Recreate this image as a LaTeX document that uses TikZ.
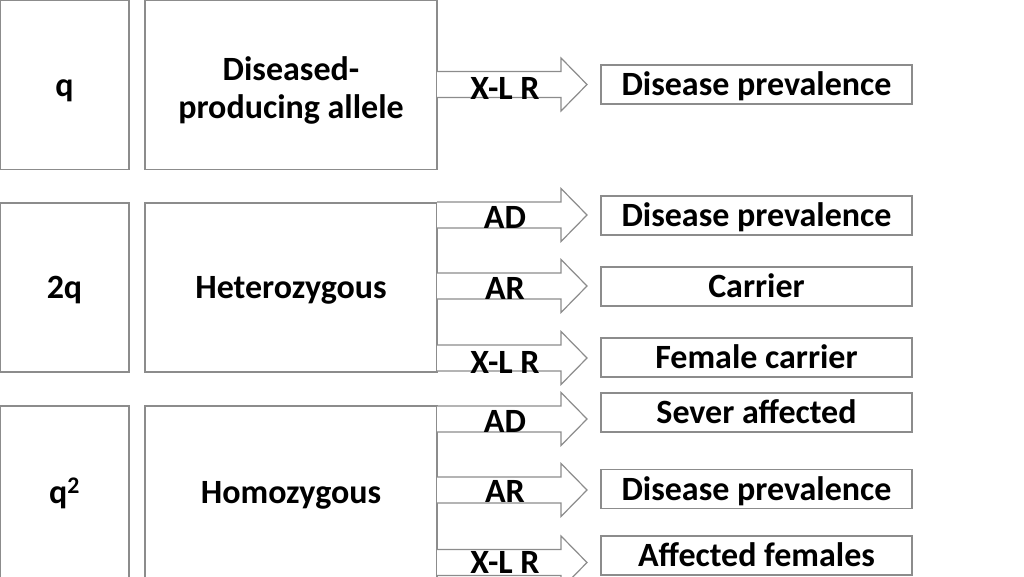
\documentclass[tikz,border=0pt]{standalone}
\usepackage{fontspec}
\setmainfont{Carlito}
\definecolor{lc}{RGB}{140,140,140}
\begin{document}
\begin{tikzpicture}[x=1pt,y=-1pt,
  txt/.style={font=\fontsize{34}{40}\selectfont\bfseries, text height=22pt, text depth=0pt, inner sep=0pt},
  box/.style={txt, draw=lc, line width=1.2pt, rectangle},
  blockarrow/.style={draw=lc, line width=1.2pt, fill=white, line join=miter}
]
\useasboundingbox (0,0) rectangle (1024,576);
\clip (0,0) rectangle (1024,576);
% left column
\node[box, minimum width=129pt, minimum height=169pt] (q1) at (64.5,85) {q};
\node[box, minimum width=292pt, minimum height=169pt] (d1) at (291,85) {};
\node[font=\fontsize{34}{38}\selectfont\bfseries, align=center, inner sep=0pt] (d1t) at (291,90) {Diseased-\\producing allele};
\node[box, minimum width=129pt, minimum height=169pt] (q2) at (64.5,287.5) {2q};
\node[box, minimum width=292pt, minimum height=169pt] (het) at (291,287.5) {Heterozygous};
\node[box, minimum width=129pt, minimum height=172pt] (q3) at (64.5,492) {q\textsuperscript{2}};
\node[box, minimum width=292pt, minimum height=172pt] (hom) at (291,492) {Homozygous};
% result boxes
\node[box, minimum width=311pt, minimum height=39pt] (r1) at (756.5,84.5) {Disease prevalence};
\node[box, minimum width=311pt, minimum height=39pt] (r2) at (756.5,215.5) {Disease prevalence};
\node[box, minimum width=311pt, minimum height=39pt] (r3) at (756.5,286.5) {Carrier};
\node[box, minimum width=311pt, minimum height=39pt] (r4) at (756.5,357.5) {Female carrier};
\node[box, minimum width=311pt, minimum height=39pt] (r5) at (756.5,412.5) {Sever affected};
\node[box, minimum width=311pt, minimum height=39pt] (r6) at (756.5,489) {Disease prevalence};
\node[box, minimum width=311pt, minimum height=39pt] (r7) at (756.5,555.5) {Affected females};
% block arrows
\foreach \c/\ly/\lab/\nm in {84.5/88/X-L R/a1, 215/217/AD/a2, 286/288/AR/a3, 358/362/X-L R/a4, 419/421/AD/a5, 490/491/AR/a6, 562.5/562/X-L R/a7}{
  \draw[blockarrow] (437,\c-13) -- (561,\c-13) -- (561,\c-26.5) -- (587,\c) -- (561,\c+26.5) -- (561,\c+13) -- (437,\c+13);
  \node[txt] (\nm) at (505,\ly) {\lab};
}
\end{tikzpicture}
\end{document}
